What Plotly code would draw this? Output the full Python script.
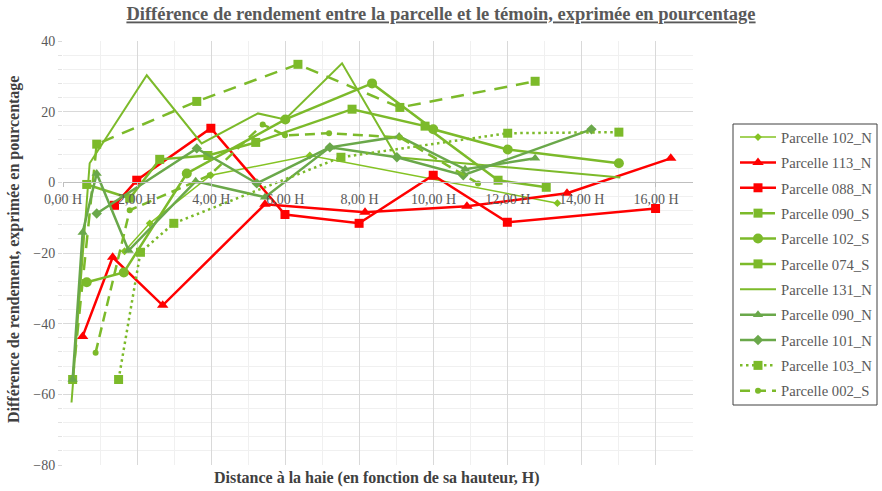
import plotly.graph_objects as go

# ---------------- data ----------------
x_tick_vals = [0, 2, 4, 6, 8, 10, 12, 14, 16]
x_tick_text = ["0,00 H", "2,00 H", "4,00 H", "6,00 H", "8,00 H", "10,00 H", "12,00 H", "14,00 H", "16,00 H"]

x_102N = [1.66, 2.34, 3.99, 6.66, 13.34]
y_102N = [-19.5, -11.6, 2.0, 7.6, -5.9]

x_113N = [0.53, 1.34, 2.69, 5.45, 8.15, 10.9, 13.6, 16.4]
y_113N = [-43.6, -21.2, -34.8, -6.2, -8.5, -6.8, -3.1, 6.8]

x_088N = [1.39, 1.99, 3.99, 5.99, 7.99, 9.99, 11.99, 15.99]
y_088N = [-6.5, 0.6, 15.3, -9.1, -11.6, 2.0, -11.3, -7.4]

x_090S = [0.26, 0.91, 3.61, 6.34, 9.09, 12.74]
y_090S = [-55.8, 10.8, 22.9, 33.4, 21.2, 28.6]

x_102S = [0.64, 1.64, 3.34, 6.0, 8.34, 9.99, 12.0, 15.0]
y_102S = [-28.3, -25.5, 2.5, 17.8, 28.0, 15.0, 9.3, 5.4]

x_074S = [0.64, 1.8, 2.61, 3.91, 5.2, 7.8, 9.77, 11.74, 13.04]
y_074S = [-0.6, -4.5, 6.5, 7.6, 11.3, 20.7, 15.9, 0.6, -1.4]

x_131N = [0.23, 0.72, 2.26, 3.74, 5.26, 5.99, 7.53, 9.01, 15.04]
y_131N = [-62.3, 5.4, 30.3, 11.0, 19.5, 17.8, 33.7, 7.1, 1.4]

x_090N = [0.26, 0.53, 0.91, 1.77, 3.58, 5.45, 7.2, 9.07, 10.85, 12.74]
y_090N = [-55.8, -14.2, 2.5, -19.3, 0.3, -4.2, 9.9, 13.0, 3.7, 6.8]

x_101N = [0.91, 3.61, 5.23, 7.2, 9.01, 10.8, 14.26]
y_101N = [-8.8, 9.6, -0.3, 9.9, 7.1, 2.0, 15.0]

x_103N = [1.5, 2.09, 2.99, 7.5, 12.0, 15.0]
y_103N = [-55.8, -19.8, -11.6, 7.1, 13.9, 14.2]

x_002S = [0.88, 1.8, 3.96, 5.39, 5.99, 7.18, 9.09, 11.2]
y_002S = [-48.2, -7.9, 2.0, 16.4, 13.3, 13.9, 12.7, -0.3]

# ---------------- styles ----------------
RED = "#FF0000"
LG = "#7CBA2A"
DG = "#6AA84A"
BG = "#84C323"
FONT = "Liberation Serif"
TXT = "#595959"

series = [
    ("Parcelle 102_N", x_102N, y_102N, BG, 1.5, "solid", "diamond", 6),
    ("Parcelle 113_N", x_113N, y_113N, RED, 2.5, "solid", "triangle-up", 10),
    ("Parcelle 088_N", x_088N, y_088N, RED, 2.5, "solid", "square", 9),
    ("Parcelle 090_S", x_090S, y_090S, LG, 2.5, "13px,9px", "square", 9),
    ("Parcelle 102_S", x_102S, y_102S, LG, 2.5, "solid", "circle", 10),
    ("Parcelle 074_S", x_074S, y_074S, LG, 2.5, "solid", "square", 9),
    ("Parcelle 131_N", x_131N, y_131N, LG, 2.0, "solid", "line-ew", 3),
    ("Parcelle 090_N", x_090N, y_090N, DG, 2.5, "solid", "triangle-up", 9),
    ("Parcelle 101_N", x_101N, y_101N, DG, 2.5, "solid", "diamond", 8),
    ("Parcelle 103_N", x_103N, y_103N, LG, 2.5, "2.5px,3.5px", "square", 9),
    ("Parcelle 002_S", x_002S, y_002S, LG, 2.5, "10px,6px", "circle", 6),
]

# plot area in pixels (for placing legend/titles)
PL, PR, PT, PB = 63, 693, 41, 465
PW, PH = PR - PL, PB - PT


def px_x(p):
    return (p - PL) / PW


def px_y(p):
    return 1 - (p - PT) / PH


fig = go.Figure()
for i, (name, xs, ys, col, lw, dash, sym, ms) in enumerate(series):
    fig.add_trace(go.Scatter(
        x=xs, y=ys, name=name, mode="lines+markers", legendgroup=f"g{i}",
        line=dict(color=col, width=lw, dash=dash),
        marker=dict(symbol=sym, size=ms, color=col, line=dict(width=0, color=col)),
    ))

fig.update_layout(
    width=882, height=491,
    margin=dict(l=PL, r=882 - PR, t=PT, b=491 - PB, autoexpand=False),
    paper_bgcolor="white", plot_bgcolor="white",
    font=dict(family=FONT, color=TXT, size=13),
    title=dict(
        text="<b><u>Différence de rendement entre la parcelle et le témoin, exprimée en pourcentage</u></b>",
        x=0.5, xref="container", xanchor="center",
        y=1 - 14 / 491, yref="container", yanchor="middle",
        font=dict(family=FONT, size=18.5, color=TXT),
    ),
    xaxis=dict(
        range=[0, 17], anchor="free", position=80 / 120,
        tickvals=x_tick_vals, ticktext=x_tick_text,
        showgrid=True, gridcolor="#D9D9D9", gridwidth=1,
        minor=dict(dtick=1, showgrid=True, gridcolor="#F0F0F0"),
        zeroline=False, showline=True, linecolor="#BFBFBF", linewidth=1,
        ticks="outside", ticklen=4, tickcolor="#BFBFBF",
        tickfont=dict(family=FONT, size=14, color=TXT),
    ),
    yaxis=dict(
        range=[-80, 40], dtick=20,
        showgrid=True, gridcolor="#D9D9D9", gridwidth=1,
        minor=dict(dtick=4, showgrid=True, gridcolor="#F0F0F0",
                   ticks="outside", ticklen=4, tickcolor="#E3E3E3"),
        ticks="outside", ticklen=4, tickcolor="#D9D9D9",
        zeroline=False, showline=False,
        tickfont=dict(family=FONT, size=14, color=TXT),
    ),
    legend=dict(
        x=px_x(735), y=px_y(121), xanchor="left", yanchor="top",
        borderwidth=0, bgcolor="rgba(0,0,0,0)",
        font=dict(family=FONT, size=14.67, color=TXT),
        tracegroupgap=3.3, itemwidth=36,
    ),
    showlegend=True,
)

# legend frame drawn at the reference position
fig.add_shape(
    type="rect", xref="paper", yref="paper",
    x0=px_x(733), x1=px_x(877), y0=px_y(405), y1=px_y(124),
    line=dict(color="#404040", width=1), fillcolor="rgba(0,0,0,0)", layer="above",
)

fig.add_annotation(
    text="<b>Différence de rendement, exprimée en pourcentage</b>",
    xref="paper", yref="paper", x=px_x(14), y=px_y(250),
    xanchor="center", yanchor="middle", textangle=-90, showarrow=False,
    font=dict(family=FONT, size=16, color="#404040"),
)
fig.add_annotation(
    text="<b>Distance à la haie (en fonction de sa hauteur, H)</b>",
    xref="paper", yref="paper", x=px_x(377), y=px_y(478),
    xanchor="center", yanchor="middle", showarrow=False,
    font=dict(family=FONT, size=16, color="#404040"),
)

fig.write_html("out.html", config={"displayModeBar": False},
               post_script="document.body.style.margin='0';")
